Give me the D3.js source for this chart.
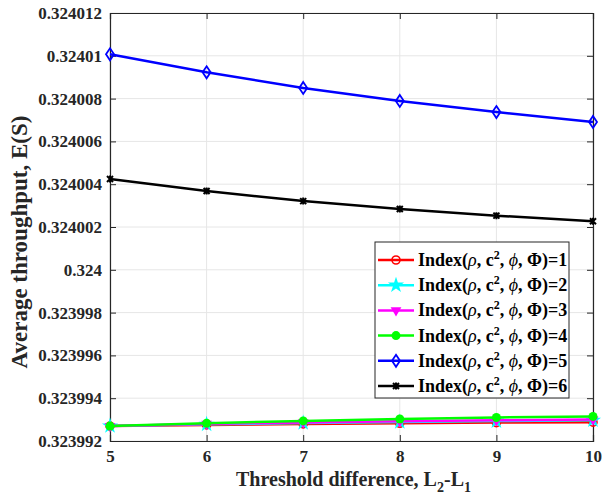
<!DOCTYPE html>
<meta charset="utf-8">
<script src="https://d3js.org/d3.v7.min.js"></script>
<style>
  body { margin: 0; background: #fff; }
  text { font-family: "Liberation Serif", "Times New Roman", serif; font-weight: bold; }
</style>
<div id="chart"></div>
<script>
// data
const xValues = [5, 6, 7, 8, 9, 10];
const yTicks = [0.323992, 0.323994, 0.323996, 0.323998, 0.324, 0.324002, 0.324004, 0.324006, 0.324008, 0.32401, 0.324012];
const seriesNames = ["1", "2", "3", "4", "5", "6"];
const s1 = [0.3239927, 0.32399275, 0.3239928, 0.32399283, 0.32399286, 0.32399288];
const s2 = [0.3239927, 0.32399278, 0.32399284, 0.32399289, 0.32399293, 0.32399297];
const s3 = [0.3239927, 0.3239928, 0.32399287, 0.32399292, 0.32399297, 0.323993];
const s4 = [0.3239927, 0.32399283, 0.32399294, 0.32399303, 0.3239931, 0.32399315];
const s5 = [0.32401007, 0.32400923, 0.3240085, 0.32400789, 0.32400737, 0.32400691];
const s6 = [0.32400424, 0.32400368, 0.32400321, 0.32400284, 0.32400253, 0.32400227];

const colors = ["#ff0000", "#00ffff", "#ff00ff", "#00ff00", "#0000ff", "#000000"];
const symbols = ["circle", "star", "tri", "dot", "diamond", "x"];

const W = 616, H = 500;
const margin = {top: 13, right: 23, bottom: 59, left: 110};
const width = W - margin.left - margin.right,
      height = H - margin.top - margin.bottom;

const svg = d3.select("#chart").append("svg")
    .attr("width", W).attr("height", H);
const g = svg.append("g").attr("transform", `translate(${margin.left},${margin.top})`);

const x = d3.scaleLinear().domain([5, 10]).range([0, width]);
const y = d3.scaleLinear().domain([0.323992, 0.324012]).range([height, 0]);

// grid
g.append("g").selectAll("line").data(xValues).join("line")
    .attr("x1", d => x(d)).attr("x2", d => x(d)).attr("y1", 0).attr("y2", height)
    .attr("stroke", "#e6e6e6").attr("stroke-width", 1);
g.append("g").selectAll("line").data(yTicks).join("line")
    .attr("y1", d => y(d)).attr("y2", d => y(d)).attr("x1", 0).attr("x2", width)
    .attr("stroke", "#e6e6e6").attr("stroke-width", 1);

// axes (ticks point inward, MATLAB style)
const fmt = v => (+v.toFixed(6)).toString();
const axB = g.append("g").attr("transform", `translate(0,${height})`)
    .call(d3.axisBottom(x).tickValues(xValues).tickFormat(d3.format("d")).tickSize(-6).tickPadding(9));
const axL = g.append("g")
    .call(d3.axisLeft(y).tickValues(yTicks).tickFormat(fmt).tickSize(-6).tickPadding(8));
const axT = g.append("g")
    .call(d3.axisTop(x).tickValues(xValues).tickSize(-6).tickFormat(""));
const axR = g.append("g").attr("transform", `translate(${width},0)`)
    .call(d3.axisRight(y).tickValues(yTicks).tickSize(-6).tickFormat(""));
[axB, axL, axT, axR].forEach(a => {
  a.select(".domain").attr("stroke", "#262626").attr("stroke-width", 1.2);
  a.selectAll(".tick line").attr("stroke", "#262626");
  a.selectAll("text").attr("fill", "#262626").style("font-size", "17px")
    .style("font-family", "Liberation Serif").style("font-weight", "bold");
});

// axis titles
const xt = svg.append("text")
    .attr("x", margin.left + width / 2 + 2).attr("y", 486)
    .attr("text-anchor", "middle").attr("fill", "#262626").style("font-size", "20px");
xt.append("tspan").text("Threshold difference, L");
xt.append("tspan").text("2").attr("font-size", "14px").attr("dy", 6);
xt.append("tspan").text("-L").attr("dy", -6);
xt.append("tspan").text("1").attr("font-size", "14px").attr("dy", 6);

svg.append("text")
    .attr("transform", `translate(27,242) rotate(-90)`)
    .attr("text-anchor", "middle").attr("fill", "#262626").style("font-size", "23px")
    .text("Average throughput, E(S)");

// markers
function marker(sel, type, color) {
  if (type === "circle") {
    sel.append("circle").attr("r", 4).attr("fill", "none").attr("stroke", color).attr("stroke-width", 1.6);
  } else if (type === "dot") {
    sel.append("circle").attr("r", 4.5).attr("fill", color);
  } else if (type === "star") {
    sel.append("path").attr("d", d3.symbol(d3.symbolStar, 80)()).attr("fill", color);
  } else if (type === "tri") {
    sel.append("path").attr("d", d3.symbol(d3.symbolTriangle, 50)()).attr("transform", "rotate(180)").attr("fill", color);
  } else if (type === "diamond") {
    sel.append("path").attr("d", "M0,-6L4,0L0,6L-4,0Z").attr("fill", "none").attr("stroke", color).attr("stroke-width", 1.8);
  } else if (type === "x") {
    sel.append("path").attr("d", "M-3,-3L3,3M-3,3L3,-3M0,-3.5L0,3.5").attr("stroke", color).attr("stroke-width", 2);
  }
}

const allSeries = [s1, s2, s3, s4, s5, s6];
const line = d3.line().x((d, i) => x(xValues[i])).y(d => y(d));

allSeries.forEach((s, k) => {
  const sg = g.append("g");
  sg.append("path").datum(s).attr("d", line)
    .attr("fill", "none").attr("stroke", colors[k]).attr("stroke-width", 2.5);
  s.forEach((v, i) => {
    const mg = sg.append("g").attr("transform", `translate(${x(xValues[i])},${y(v)})`);
    marker(mg, symbols[k], colors[k]);
  });
});

// legend
const lg = svg.append("g").attr("transform", "translate(375,242)");
lg.append("rect").attr("width", 194).attr("height", 156)
    .attr("fill", "#fff").attr("stroke", "#262626").attr("stroke-width", 1);
seriesNames.forEach((nm, k) => {
  const cy = 18 + k * 25.2;
  lg.append("line").attr("x1", 3).attr("x2", 39).attr("y1", cy).attr("y2", cy)
    .attr("stroke", colors[k]).attr("stroke-width", 2.5);
  marker(lg.append("g").attr("transform", `translate(21,${cy})`), symbols[k], colors[k]);
  const t = lg.append("text").attr("x", 43).attr("y", cy + 6).attr("fill", "#000").style("font-size", "18px");
  t.append("tspan").text("Index(");
  t.append("tspan").text("ρ").style("font-style", "italic").style("font-weight", "normal");
  t.append("tspan").text(", c");
  t.append("tspan").text("2").attr("font-size", "12px").attr("dy", -7);
  t.append("tspan").text(", ").attr("dy", 7);
  t.append("tspan").text("ϕ").style("font-style", "italic").style("font-weight", "normal");
  t.append("tspan").text(", Φ)=" + nm);
});
</script>
